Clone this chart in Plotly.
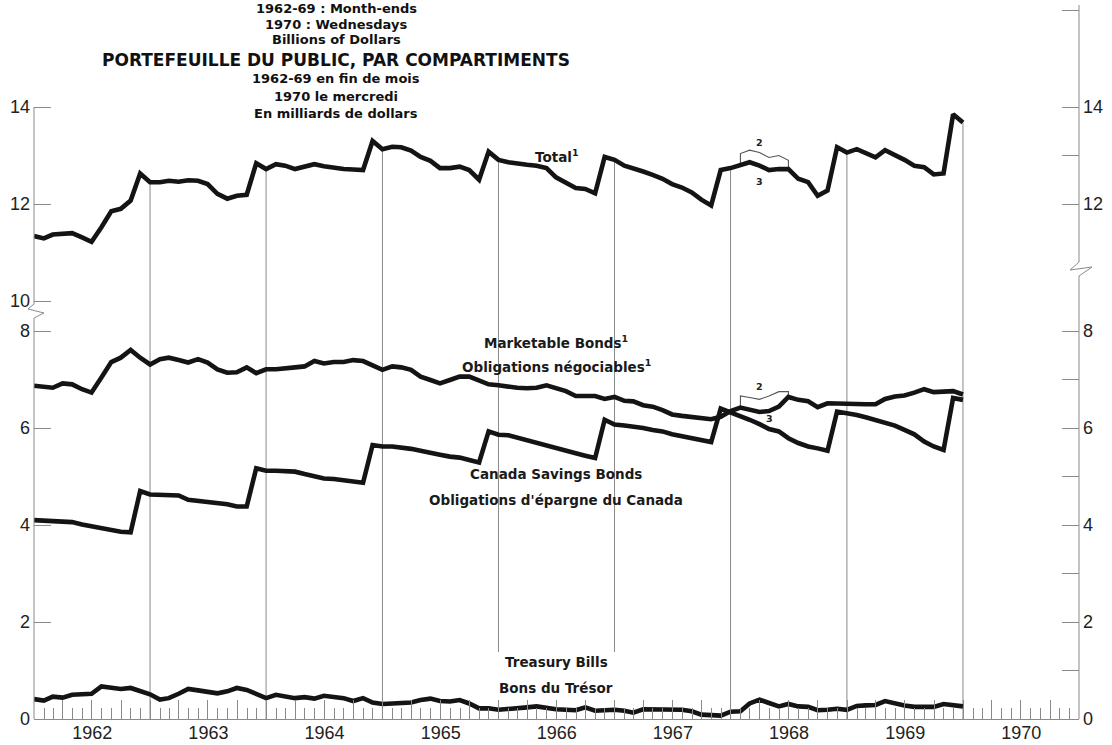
import pandas as pd
import plotly.graph_objects as go

# ---------------- data (billions of dollars) ----------------
# month-ends, Dec 1961 .. Dec 1969 (97 points)
months = pd.date_range("1961-12-01", periods=97, freq="MS") + pd.offsets.MonthEnd(0)

total = [11.34,
         11.29, 11.37, 11.39, 11.40, 11.31, 11.22, 11.52, 11.85, 11.90, 12.07, 12.63, 12.45,
         12.45, 12.48, 12.46, 12.49, 12.48, 12.41, 12.21, 12.11, 12.17, 12.19, 12.84, 12.72,
         12.82, 12.79, 12.72, 12.77, 12.82, 12.78, 12.74, 12.72, 12.71, 12.70, 13.30, 13.13,
         13.18, 13.17, 13.10, 12.97, 12.89, 12.74, 12.74, 12.77, 12.70, 12.50, 13.08, 12.91,
         12.86, 12.83, 12.81, 12.79, 12.74, 12.55, 12.45, 12.33, 12.31, 12.22, 12.97, 12.91,
         12.79, 12.74, 12.67, 12.60, 12.52, 12.41, 12.34, 12.24, 12.09, 11.97, 12.70, 12.74,
         12.79, 12.86, 12.79, 12.70, 12.72, 12.72, 12.52, 12.45, 12.17, 12.28, 13.17, 13.06,
         13.13, 13.06, 12.96, 13.11, 13.02, 12.91, 12.79, 12.76, 12.61, 12.63, 13.85, 13.68]

marketable = [6.87,
              6.85, 6.83, 6.92, 6.90, 6.80, 6.73, 7.04, 7.36, 7.45, 7.61, 7.45, 7.31,
              7.42, 7.45, 7.40, 7.35, 7.42, 7.35, 7.21, 7.14, 7.15, 7.25, 7.13, 7.21,
              7.21, 7.22, 7.25, 7.27, 7.38, 7.33, 7.36, 7.36, 7.40, 7.38, 7.29, 7.20,
              7.27, 7.25, 7.20, 7.06, 6.99, 6.92, 6.99, 7.06, 7.06, 6.99, 6.90, 6.88,
              6.85, 6.83, 6.82, 6.83, 6.88, 6.83, 6.76, 6.66, 6.67, 6.66, 6.60, 6.64,
              6.56, 6.55, 6.47, 6.44, 6.37, 6.28, 6.25, 6.23, 6.20, 6.18, 6.23, 6.35,
              6.42, 6.37, 6.33, 6.35, 6.44, 6.64, 6.58, 6.55, 6.43, 6.51, 6.50, 6.49,
              6.49, 6.49, 6.49, 6.60, 6.65, 6.67, 6.73, 6.80, 6.74, 6.76, 6.76, 6.69]

savings_bonds = [4.10,
                 4.10, 4.08, 4.07, 4.06, 4.01, 3.97, 3.92, 3.88, 3.86, 3.85, 4.70, 4.63,
                 4.63, 4.63, 4.61, 4.52, 4.50, 4.48, 4.47, 4.43, 4.38, 4.38, 5.17, 5.12,
                 5.12, 5.12, 5.10, 5.05, 5.00, 4.96, 4.95, 4.93, 4.90, 4.87, 5.65, 5.62,
                 5.62, 5.60, 5.57, 5.53, 5.50, 5.45, 5.41, 5.39, 5.34, 5.29, 5.93, 5.86,
                 5.85, 5.80, 5.73, 5.68, 5.63, 5.58, 5.53, 5.48, 5.43, 5.38, 6.17, 6.07,
                 6.05, 6.03, 6.00, 5.96, 5.93, 5.87, 5.83, 5.79, 5.74, 5.71, 6.40, 6.33,
                 6.24, 6.17, 6.08, 5.98, 5.93, 5.79, 5.69, 5.62, 5.58, 5.53, 6.34, 6.31,
                 6.27, 6.22, 6.17, 6.10, 6.05, 5.96, 5.87, 5.72, 5.62, 5.55, 6.62, 6.58]

treasury_bills = [0.41,
                  0.38, 0.46, 0.44, 0.50, 0.51, 0.52, 0.67, 0.64, 0.62, 0.64, 0.57, 0.51,
                  0.40, 0.43, 0.52, 0.62, 0.59, 0.55, 0.53, 0.57, 0.64, 0.60, 0.52, 0.43,
                  0.50, 0.47, 0.43, 0.45, 0.42, 0.48, 0.45, 0.43, 0.37, 0.43, 0.34, 0.31,
                  0.32, 0.32, 0.34, 0.39, 0.42, 0.37, 0.36, 0.39, 0.32, 0.22, 0.22, 0.19,
                  0.20, 0.22, 0.24, 0.26, 0.22, 0.20, 0.19, 0.18, 0.24, 0.17, 0.18, 0.19,
                  0.17, 0.13, 0.20, 0.20, 0.20, 0.20, 0.19, 0.16, 0.09, 0.08, 0.07, 0.15,
                  0.16, 0.32, 0.40, 0.33, 0.26, 0.31, 0.26, 0.25, 0.18, 0.19, 0.21, 0.19,
                  0.27, 0.28, 0.29, 0.37, 0.32, 0.28, 0.25, 0.26, 0.25, 0.31, 0.29, 0.26]

# alternative 1968 series (note 2)
alt_dates = ["1968-01-31", "1968-01-31", "1968-02-29", "1968-03-31",
             "1968-04-30", "1968-05-31", "1968-06-30", "1968-06-30"]
total_alt = [12.79, 13.04, 13.11, 13.06, 12.96, 13.00, 12.90, 12.72]
marketable_alt = [6.42, 6.66, 6.63, 6.59, 6.66, 6.75, 6.75, 6.64]

year_ends = ["1962-12-31", "1963-12-31", "1964-12-31", "1965-12-31",
             "1966-12-31", "1967-12-31", "1968-12-31", "1969-12-31"]
year_line_bottom = [0, 0, 0, 1.38, 1.38, 0, 0, 0]

# ---------------- geometry ----------------
W, H = 1112, 745
ML, MR, MT, MB = 34, 33, 5, 26
PW, PH = W - ML - MR, H - MT - MB
ZERO_PX = H - MB            # pixel row of value 0
PPU = 48.5                  # pixels per unit
BREAK_PX = 316              # pixel row where the two panels meet
TEN_PX = 301                # pixel row of value 10

D = (ZERO_PX - BREAK_PX) / PH
low_top = (ZERO_PX - BREAK_PX) / PPU
up_bottom = 10 - (BREAK_PX - TEN_PX) / PPU
up_top = up_bottom + (BREAK_PX - MT) / PPU


def pxx(p):
    return (p - ML) / PW


def pxy(p):
    return (ZERO_PX - p) / PH


AX = "#8a8a8a"
INK = "#141414"
TICKFONT = dict(family="Liberation Sans, Arial, sans-serif", size=18, color="#222")
LABFONT = dict(family="DejaVu Sans, Verdana, sans-serif", size=13.5, color="#1a1a1a")

fig = go.Figure()

# vertical year-end rules
total_at_year_end = [total[12 * (k + 1)] for k in range(len(year_ends))]
lx, ly, ux, uy = [], [], [], []
for d, b, t in zip(year_ends, year_line_bottom, total_at_year_end):
    lx += [d, d, None]
    ly += [b, low_top, None]
    ux += [d, d, None]
    uy += [up_bottom, t, None]
fig.add_trace(go.Scatter(x=lx, y=ly, mode="lines", line=dict(color=AX, width=1),
                         yaxis="y", hoverinfo="skip", showlegend=False))
fig.add_trace(go.Scatter(x=ux, y=uy, mode="lines", line=dict(color=AX, width=1),
                         yaxis="y2", hoverinfo="skip", showlegend=False))

thick = dict(color=INK, width=4.6)
thin = dict(color="#555", width=1.1)
fig.add_trace(go.Scatter(x=alt_dates, y=total_alt, mode="lines", line=thin, yaxis="y2", showlegend=False))
fig.add_trace(go.Scatter(x=alt_dates, y=marketable_alt, mode="lines", line=thin, yaxis="y", showlegend=False))
fig.add_trace(go.Scatter(x=months, y=total, mode="lines", line=thick, yaxis="y2", name="Total"))
fig.add_trace(go.Scatter(x=months, y=savings_bonds, mode="lines", line=thick, yaxis="y", name="Canada Savings Bonds"))
fig.add_trace(go.Scatter(x=months, y=marketable, mode="lines", line=thick, yaxis="y", name="Marketable Bonds"))
fig.add_trace(go.Scatter(x=months, y=treasury_bills, mode="lines", line=thick, yaxis="y", name="Treasury Bills"))
# carriers for right-hand axes and year labels
fig.add_trace(go.Scatter(x=[None], y=[None], yaxis="y3", showlegend=False, hoverinfo="skip"))
fig.add_trace(go.Scatter(x=[None], y=[None], yaxis="y4", showlegend=False, hoverinfo="skip"))
fig.add_trace(go.Scatter(x=[None], y=[None], xaxis="x2", yaxis="y", showlegend=False, hoverinfo="skip"))

xr = ["1961-12-31", "1970-12-31"]
common_y = dict(showgrid=False, zeroline=False, showline=False, ticks="inside", automargin=False,
                ticklen=17, tickwidth=1, tickcolor=AX, tickfont=TICKFONT, fixedrange=True,
                ticklabelstandoff=3)

fig.update_layout(
    template="none",
    width=W, height=H, margin=dict(l=ML, r=MR, t=MT, b=MB, autoexpand=False),
    paper_bgcolor="white", plot_bgcolor="white", showlegend=False,
    xaxis=dict(type="date", range=xr, anchor="y", showgrid=False, zeroline=False, automargin=False,
               showline=True, linecolor=AX, linewidth=1, mirror=False,
               ticks="inside", tick0="1962-01-01", dtick="M3", ticklen=19, tickcolor=AX,
               showticklabels=False,
               minor=dict(ticks="inside", dtick="M1", tick0="1962-01-01", ticklen=11, tickcolor=AX,
                          showgrid=False)),
    xaxis2=dict(type="date", range=xr, overlaying="x", anchor="y", side="bottom", automargin=False,
                showgrid=False, zeroline=False, showline=False, ticks="",
                tick0="1962-01-01", dtick="M12", ticklabelmode="period", tickformat="%Y",
                tickfont=TICKFONT, ticklabelstandoff=1),
    yaxis=dict(domain=[0, D], range=[0, low_top], tickvals=[0, 2, 4, 6, 8], **common_y),
    yaxis2=dict(domain=[D, 1], range=[up_bottom, up_top], anchor="x",
                tickvals=[10, 12, 14], **common_y),
    yaxis3=dict(overlaying="y", side="right", anchor="x", range=[0, low_top],
                tickvals=[0, 2, 4, 6, 8],
                minor=dict(ticks="inside", tickmode="array", tickvals=[1, 3, 5, 7],
                           ticklen=17, tickcolor=AX, showgrid=False),
                **common_y),
    yaxis4=dict(overlaying="y2", side="right", anchor="x", range=[up_bottom, up_top],
                tickvals=[12, 14],
                minor=dict(ticks="inside", tickmode="array", tickvals=[13, 16],
                           ticklen=17, tickcolor=AX, showgrid=False),
                **common_y),
)

# axis lines with breaks
line_style = dict(color=AX, width=1)
shapes = [
    dict(type="line", xref="paper", yref="paper", x0=0, x1=0, y0=0, y1=pxy(318), line=line_style),
    dict(type="line", xref="paper", yref="y2", x0=0, x1=0, y0=10 - (304 - TEN_PX) / PPU, y1=14, line=line_style),
    dict(type="path", xref="paper", yref="paper",
         path=f"M {pxx(34)},{pxy(304)} L {pxx(28)},{pxy(309)} L {pxx(44)},{pxy(313)} L {pxx(34)},{pxy(318)}",
         line=line_style),
    dict(type="line", xref="paper", yref="paper", x0=1, x1=1, y0=0, y1=pxy(276), line=line_style),
    dict(type="line", xref="paper", yref="paper", x0=1, x1=1, y0=pxy(262), y1=1, line=line_style),
    dict(type="path", xref="paper", yref="paper",
         path=f"M {pxx(1079)},{pxy(262)} L {pxx(1070)},{pxy(270)} L {pxx(1092)},{pxy(267)} L {pxx(1079)},{pxy(276)}",
         line=line_style),
]
fig.update_layout(shapes=shapes)

# heading text
title_x = pxx(336)
head = [("1962-69 : Month-ends", 9, 13), ("1970 : Wednesdays", 24, 13),
        ("Billions of Dollars", 39, 13),
        ("PORTEFEUILLE DU PUBLIC, PAR COMPARTIMENTS", 60, 17),
        ("1962-69 en fin de mois", 79, 13), ("1970 le mercredi", 96, 13),
        ("En milliards de dollars", 113, 13)]
for txt, yp, sz in head:
    fig.add_annotation(text=f"<b>{txt}</b>", xref="paper", yref="paper",
                       x=title_x, y=pxy(yp), showarrow=False, xanchor="center", yanchor="middle",
                       font=dict(family="DejaVu Sans, Verdana, sans-serif", size=sz, color="#111"))

mid = "1966-06-30"
labels = [("Total<sup>1</sup>", "y2", 13.0),
          ("Marketable Bonds<sup>1</sup>", "y", (ZERO_PX - 342) / PPU),
          ("Obligations négociables<sup>1</sup>", "y", (ZERO_PX - 366) / PPU),
          ("Canada Savings Bonds", "y", (ZERO_PX - 474) / PPU),
          ("Obligations d'épargne du Canada", "y", (ZERO_PX - 500) / PPU),
          ("Treasury Bills", "y", (ZERO_PX - 662) / PPU),
          ("Bons du Trésor", "y", (ZERO_PX - 688) / PPU)]
for txt, yr, yv in labels:
    fig.add_annotation(text=f"<b>{txt}</b>", x=mid, y=yv, xref="x", yref=yr, showarrow=False,
                       xanchor="center", yanchor="middle", font=LABFONT)

small = dict(family="DejaVu Sans, sans-serif", size=9.5, color="#222")
for txt, xd, yr, yv in [("<b>2</b>", "1968-04-01", "y2", 13.26), ("<b>3</b>", "1968-04-01", "y2", 12.47),
                        ("<b>2</b>", "1968-04-01", "y", 6.85), ("<b>3</b>", "1968-05-01", "y", 6.19)]:
    fig.add_annotation(text=txt, x=xd, y=yv, xref="x", yref=yr, showarrow=False, font=small)

fig.write_html("out.html", config={"displayModeBar": False, "staticPlot": True},
               post_script="document.body.style.margin='0px';")
